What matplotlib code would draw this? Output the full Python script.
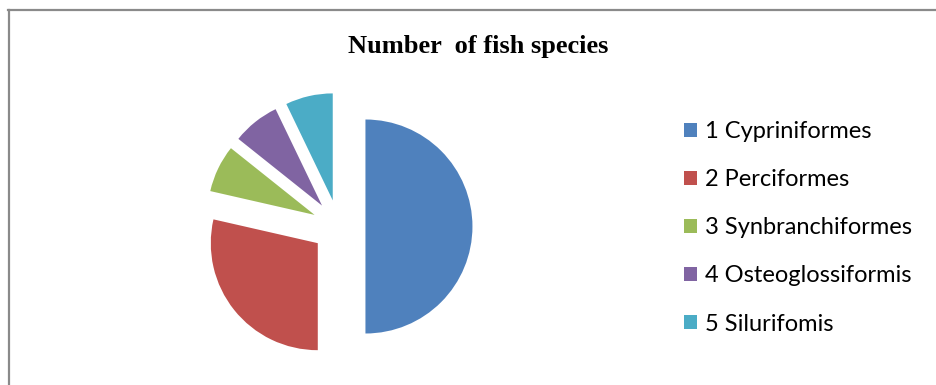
import matplotlib.pyplot as plt
from matplotlib.lines import Line2D
from matplotlib.patches import Patch

labels = ['1 Cypriniformes', '2 Perciformes', '3 Synbranchiformes',
          '4 Osteoglossiformis', '5 Silurifomis']
species = [14, 8, 2, 2, 2]
colors = ['#4F81BD', '#C0504D', '#9BBB59', '#8064A2', '#4BACC6']

W, H = 936, 385
fig = plt.figure(figsize=(W / 100, H / 100), dpi=100)

# frame lines (top and left only visible)
fig.add_artist(Line2D([8 / W, 1], [1 - 9.5 / H] * 2, color='#8a8a8a', lw=1.6))
fig.add_artist(Line2D([9 / W] * 2, [0, 1 - 9.5 / H], color='#8a8a8a', lw=1.6))

# pie axes: centre at (338.7, 226.5) px, radius 107 px
cx, cy, r = 338.7, 226.5, 107
aw, ah = 400, 300
ax = fig.add_axes([(cx - aw / 2) / W, (H - cy - ah / 2) / H, aw / W, ah / H])
ax.pie(species, colors=colors, startangle=90, counterclock=False,
       explode=[0.25] * len(species), radius=1)
ax.set_xlim(-aw / 2 / r, aw / 2 / r)
ax.set_ylim(-ah / 2 / r, ah / 2 / r)
ax.set_aspect('equal')
ax.axis('off')

fig.text(478 / W, 1 - 47 / H, 'Number  of fish species', ha='center', va='center',
         family='Liberation Serif', weight='bold', fontsize=19)

handles = [Patch(facecolor=c, edgecolor='none') for c in colors]
fig.legend(handles, labels, loc='upper left', bbox_to_anchor=(684 / W, 1 - 121 / H),
           frameon=False, prop={'family': 'Lato', 'size': 17},
           handlelength=0.55, handleheight=0.55, handletextpad=0.34,
           labelspacing=1.15, borderpad=0, borderaxespad=0)

fig.savefig('out.png', dpi=100)
